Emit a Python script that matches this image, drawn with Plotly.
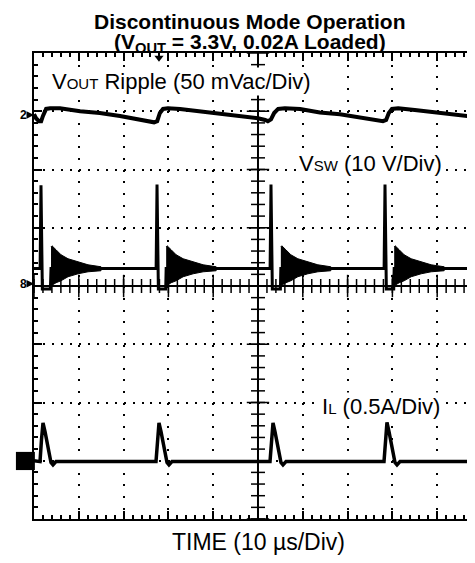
import numpy as np
import plotly.graph_objects as go

# Time in microseconds (10 us/div); amplitudes in screen divisions (0 = centre line)
vout_t = [0, 0.45, 1.1, 1.6, 2.0, 2.7, 3.6, 5.8, 10.3, 14.7, 19.2, 23.7, 25.9, 26.8, 27.5,
          28.1, 28.8, 29.9, 32.6, 37.1, 41.5, 46.0, 50.0, 51.6, 52.2, 52.9, 53.6, 54.5, 56.0,
          59.4, 63.8, 68.3, 72.8, 76.8, 77.9, 78.6, 79.2, 79.9, 81.3, 85.0, 89.5, 94.0, 98.4, 100.0]
vout_v = [2.95, 2.88, 2.83, 2.83, 2.92, 3.04, 3.05, 3.05, 3.00, 2.97, 2.92, 2.86, 2.83, 2.81, 2.83,
          2.97, 3.04, 3.05, 3.04, 3.00, 2.97, 2.92, 2.88, 2.85, 2.83, 2.86, 2.97, 3.04, 3.05,
          3.04, 2.98, 2.95, 2.90, 2.85, 2.83, 2.85, 2.97, 3.04, 3.05, 3.02, 2.98, 2.93, 2.90, 2.89]

vsw_t = [0, 1.36, 1.56, 1.86, 3.66, 3.80, 27.26, 27.46, 27.76, 29.40, 29.50, 52.70, 52.90, 53.20,
         55.00, 55.10, 78.15, 78.35, 78.65, 80.30, 80.40, 100.0]
vsw_v = [0.30, 0.30, 1.73, -0.05, -0.05, 0.30, 0.30, 1.74, -0.05, -0.05, 0.30, 0.30, 1.74, -0.05,
         -0.05, 0.30, 0.30, 1.74, -0.05, -0.05, 0.30, 0.30]

# ringing envelope after each switching edge
ring_start_t = [3.8, 29.5, 55.1, 80.4]
ring_dt = [0, 0.22, 1.12, 2.23, 3.79, 6.03, 8.26, 11.16]
ring_hi = [0.673, 0.690, 0.622, 0.536, 0.468, 0.416, 0.364, 0.330]
ring_lo = [0.004, 0.021, 0.056, 0.090, 0.159, 0.210, 0.244, 0.262]

il_t = [0, 1.34, 1.67, 2.01, 2.46, 3.13, 3.79, 4.24, 4.91,
        27.23, 27.57, 27.90, 28.35, 29.02, 29.69, 30.13, 30.80,
        52.68, 53.01, 53.35, 53.79, 54.46, 55.13, 55.58, 56.25,
        78.13, 78.46, 78.79, 79.24, 79.91, 80.58, 81.03, 81.70, 100.0]
il_v = [-3.00, -3.015, -2.64, -2.35, -2.50, -2.81, -3.03, -3.07, -3.015,
        -3.015, -2.64, -2.35, -2.50, -2.81, -3.03, -3.07, -3.015,
        -3.015, -2.64, -2.35, -2.50, -2.81, -3.03, -3.07, -3.015,
        -3.015, -2.64, -2.34, -2.50, -2.81, -3.03, -3.07, -3.015, -3.015]

X_MAX = 98.44
BLACK = "#000000"
FONT = "Liberation Sans, Arial, sans-serif"

fig = go.Figure()

# centre crosshair tick marks
xt_minor = np.arange(0, X_MAX, 2)
xt_major = np.arange(0, X_MAX, 10)
yt_minor = np.arange(-4, 4.001, 0.2)
yt_major = np.arange(-4, 4.001, 1)
fig.add_trace(go.Scatter(x=xt_minor, y=[0] * len(xt_minor), mode="markers", hoverinfo="skip",
                         marker=dict(symbol="line-ns", size=10, line=dict(width=1.5, color=BLACK))))
fig.add_trace(go.Scatter(x=xt_major, y=[0] * len(xt_major), mode="markers", hoverinfo="skip",
                         marker=dict(symbol="line-ns", size=16, line=dict(width=1.5, color=BLACK))))
fig.add_trace(go.Scatter(x=[50] * len(yt_minor), y=yt_minor, mode="markers", hoverinfo="skip",
                         marker=dict(symbol="line-ew", size=10, line=dict(width=1.5, color=BLACK))))
fig.add_trace(go.Scatter(x=[50] * len(yt_major), y=yt_major, mode="markers", hoverinfo="skip",
                         marker=dict(symbol="line-ew", size=16, line=dict(width=1.5, color=BLACK))))

# trigger position (top) and trigger level (right) indicators
fig.add_trace(go.Scatter(x=[27.9], y=[3.92], mode="markers", hoverinfo="skip", cliponaxis=False,
                         marker=dict(symbol="triangle-down", size=8, color=BLACK)))
fig.add_trace(go.Scatter(x=[97.7], y=[0.69], mode="markers", hoverinfo="skip", cliponaxis=False,
                         marker=dict(symbol="diamond", size=7, color=BLACK)))

# waveforms
fig.add_trace(go.Scatter(x=vout_t, y=vout_v, mode="lines", line=dict(color=BLACK, width=4),
                         hoverinfo="skip"))
fig.add_trace(go.Scatter(x=vsw_t, y=vsw_v, mode="lines", line=dict(color=BLACK, width=3),
                         hoverinfo="skip"))
for r in ring_start_t:
    xs = [r + d for d in ring_dt] + [r + d for d in ring_dt[::-1]]
    ys = ring_hi + ring_lo[::-1]
    fig.add_trace(go.Scatter(x=xs, y=ys, mode="lines", fill="toself", fillcolor=BLACK,
                             line=dict(color=BLACK, width=1), hoverinfo="skip"))
fig.add_trace(go.Scatter(x=il_t, y=il_v, mode="lines", line=dict(color=BLACK, width=3.5),
                         hoverinfo="skip"))

# centre lines
fig.add_shape(type="line", x0=50, x1=50, y0=-4, y1=4, line=dict(color=BLACK, width=2), layer="below")
fig.add_shape(type="line", x0=0, x1=X_MAX, y0=0, y1=0, line=dict(color=BLACK, width=2), layer="below")

# channel 1 ground marker box
fig.add_shape(type="rect", xref="paper", yref="paper", x0=-0.041, x1=0.002, y0=0.105, y1=0.144,
              fillcolor=BLACK, line=dict(width=0))


def lab(text, x, y, size, xanchor="left", bold=False, bg=None):
    fig.add_annotation(text=("<b>%s</b>" % text) if bold else text, x=x, y=y, xref="paper",
                       yref="paper", xanchor=xanchor, yanchor="middle", showarrow=False,
                       font=dict(family=FONT, size=size, color=BLACK),
                       bgcolor=bg, borderpad=1)


lab("Discontinuous Mode Operation", 0.49, 1.068, 21, "center", bold=True)
lab("(V<sub>OUT</sub> = 3.3V, 0.02A Loaded)", 0.49, 1.022, 21, "center", bold=True)
lab('V<span style="font-size:15px">OUT</span> Ripple (50 mVac/Div)', 0.036, 0.938, 22, bg="white")
lab('V<span style="font-size:15px">SW</span> (10 V/Div)', 0.597, 0.762, 22, bg="white")
lab('I<span style="font-size:15px">L</span> (0.5A/Div)', 0.649, 0.241, 22, bg="white")
lab("TIME (10 µs/Div)", 0.508, -0.050, 23, "center")

# channel reference markers
for txt, yp in [("2", 0.867), ("8", 0.505)]:
    fig.add_annotation(text="<b>%s</b>" % txt, x=0, y=yp, xref="paper", yref="paper",
                       ax=-11, ay=0, showarrow=True, arrowhead=2, arrowsize=1, arrowwidth=1.5,
                       arrowcolor=BLACK, standoff=0, font=dict(family=FONT, size=12, color=BLACK))

# the page body adds an 8px margin; the figure is sized so the page never needs to scroll
fig.update_layout(
    width=467, height=547,
    margin=dict(l=26, r=0, t=45, b=36),
    paper_bgcolor="white", plot_bgcolor="white",
    showlegend=False,
    xaxis=dict(range=[0, X_MAX], showline=True, linewidth=2, linecolor=BLACK, mirror="ticks",
               ticks="inside", ticklen=8, tickwidth=1.5, tickcolor=BLACK, tick0=0, dtick=10,
               showticklabels=False, zeroline=False,
               showgrid=True, gridcolor=BLACK, gridwidth=2, griddash="2px,9.66px",
               minor=dict(dtick=2, tick0=0, ticks="inside", ticklen=4, tickwidth=1.5,
                          tickcolor=BLACK, showgrid=False),
               fixedrange=True),
    yaxis=dict(range=[-4, 4], showline=True, linewidth=2, linecolor=BLACK, mirror=False,
               ticks="inside", ticklen=8, tickwidth=1.5, tickcolor=BLACK, tick0=0, dtick=1,
               showticklabels=False, zeroline=False,
               showgrid=True, gridcolor=BLACK, gridwidth=2, griddash="2px,6.96px",
               minor=dict(dtick=0.2, tick0=0, ticks="inside", ticklen=4, tickwidth=1.5,
                          tickcolor=BLACK, showgrid=False),
               fixedrange=True),
)

fig.write_html("out.html")
